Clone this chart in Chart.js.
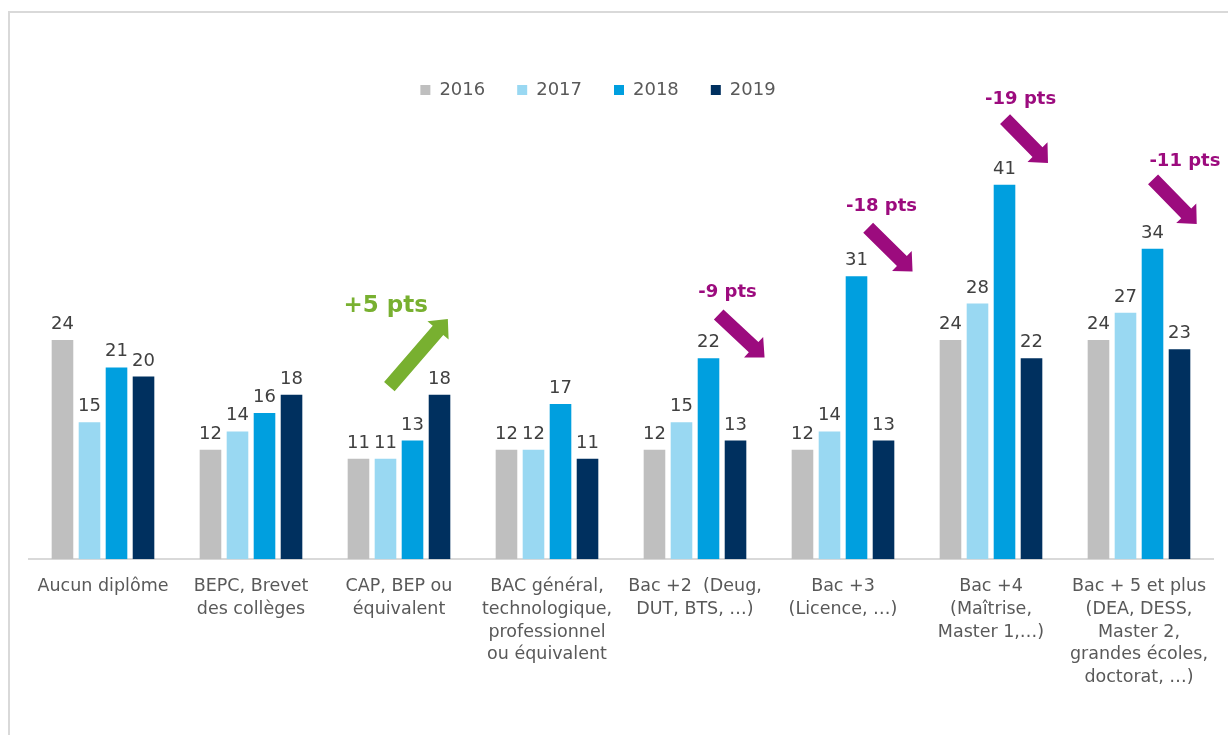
<!DOCTYPE html>
<html>
<head>
<meta charset="utf-8">
<script src="https://cdn.jsdelivr.net/npm/chart.js@4/dist/chart.umd.min.js"></script>
<style>
  body { margin: 0; background: #fff; overflow: hidden; }
  #frame { position: absolute; left: 8px; top: 11px; width: 1300px; height: 800px;
           border-top: 2px solid #d9d9d9; border-left: 2px solid #d9d9d9; }
  #myChart { position: absolute; left: 0; top: 0; }
</style>
</head>
<body>
<div id="frame"></div>
<canvas id="myChart" width="1228" height="735"></canvas>
<script>
const categories = [
  ["Aucun diplôme"],
  ["BEPC, Brevet", "des collèges"],
  ["CAP, BEP ou", "équivalent"],
  ["BAC général,", "technologique,", "professionnel", "ou équivalent"],
  ["Bac +2  (Deug,", "DUT, BTS, …)"],
  ["Bac +3", "(Licence, …)"],
  ["Bac +4", "(Maîtrise,", "Master 1,…)"],
  ["Bac + 5 et plus", "(DEA, DESS,", "Master 2,", "grandes écoles,", "doctorat, …)"]
];
const years = ["2016", "2017", "2018", "2019"];
const values2016 = [24, 12, 11, 12, 12, 12, 24, 24];
const values2017 = [15, 14, 11, 12, 15, 14, 28, 27];
const values2018 = [21, 16, 13, 17, 22, 31, 41, 34];
const values2019 = [20, 18, 18, 11, 13, 13, 22, 23];
const evolutionTexts = ["+5 pts", "-9 pts", "-18 pts", "-19 pts", "-11 pts"];
const evolutionCats = [2, 4, 5, 6, 7];

const barColors = ["#bfbfbf", "#99d8f2", "#009fdf", "#00305f"];
const green = "#78b030";
const purple = "#9c0b7e";

// arrow placement: category offset (in category widths) and value units
const arrows = [
  { tail: [-0.065, 18.9], tip: [0.33, 26.3], text: [-0.09, 27.7], color: green, size: 23 },
  { tail: [0.16, 26.8], tip: [0.47, 22.1], text: [0.22, 29.2], color: purple, size: 18 },
  { tail: [0.17, 36.3], tip: [0.47, 31.5], text: [0.26, 38.6], color: purple, size: 18 },
  { tail: [0.095, 48.2], tip: [0.385, 43.4], text: [0.20, 50.4], color: purple, size: 18 },
  { tail: [0.095, 41.6], tip: [0.39, 36.7], text: [0.31, 43.6], color: purple, size: 18 }
];

const valueLabels = {
  id: "valueLabels",
  afterDatasetsDraw(chart) {
    const ctx = chart.ctx;
    ctx.save();
    ctx.font = "18px 'DejaVu Sans'";
    ctx.fillStyle = "#404040";
    ctx.textAlign = "center";
    ctx.textBaseline = "alphabetic";
    chart.data.datasets.forEach((ds, i) => {
      chart.getDatasetMeta(i).data.forEach((bar, j) => {
        ctx.fillText(ds.data[j], bar.x, bar.y - 11);
      });
    });
    ctx.restore();
  }
};

// nudge the legend a bit to the left, like in the original slide
const legendShift = {
  id: "legendShift",
  afterLayout(chart) {
    chart.legend.left -= 23;
    chart.legend.right -= 23;
  }
};

const evolutionArrows = {
  id: "evolutionArrows",
  afterDraw(chart) {
    const ctx = chart.ctx;
    const xs = chart.scales.x, ys = chart.scales.y;
    const catW = xs.width / categories.length;
    const px = (cat, p) => [xs.getPixelForValue(cat) + p[0] * catW, ys.getPixelForValue(p[1])];
    ctx.save();
    evolutionCats.forEach((cat, i) => {
      const a = arrows[i];
      const [x0, y0] = px(cat, a.tail);
      const [x1, y1] = px(cat, a.tip);
      const len = Math.hypot(x1 - x0, y1 - y0);
      const dx = (x1 - x0) / len, dy = (y1 - y0) / len;
      const nx = -dy, ny = dx;
      const sw = 7, hw = 14, hl = 15;
      const bx = x1 - dx * hl, by = y1 - dy * hl;
      ctx.fillStyle = a.color;
      ctx.beginPath();
      ctx.moveTo(x0 + nx * sw, y0 + ny * sw);
      ctx.lineTo(bx + nx * sw, by + ny * sw);
      ctx.lineTo(bx + nx * hw, by + ny * hw);
      ctx.lineTo(x1, y1);
      ctx.lineTo(bx - nx * hw, by - ny * hw);
      ctx.lineTo(bx - nx * sw, by - ny * sw);
      ctx.lineTo(x0 - nx * sw, y0 - ny * sw);
      ctx.closePath();
      ctx.fill();
      const [tx, ty] = px(cat, a.text);
      ctx.font = "bold " + a.size + "px 'DejaVu Sans'";
      ctx.textAlign = "center";
      ctx.textBaseline = "middle";
      ctx.fillText(evolutionTexts[i], tx, ty);
    });
    ctx.restore();
  }
};

new Chart("myChart", {
  type: "bar",
  data: {
    labels: categories,
    datasets: [
      { label: years[0], data: values2016, backgroundColor: barColors[0] },
      { label: years[1], data: values2017, backgroundColor: barColors[1] },
      { label: years[2], data: values2018, backgroundColor: barColors[2] },
      { label: years[3], data: values2019, backgroundColor: barColors[3] }
    ]
  },
  options: {
    responsive: false,
    animation: false,
    categoryPercentage: 0.73,
    barPercentage: 0.8,
    layout: { padding: { top: 49, left: 29, right: 15, bottom: 30 } },
    plugins: {
      legend: {
        position: "top",
        labels: {
          boxWidth: 10,
          boxHeight: 10,
          padding: 32,
          color: "#595959",
          font: { family: "DejaVu Sans", size: 18 }
        }
      },
      tooltip: { enabled: false }
    },
    scales: {
      x: {
        grid: { display: false, drawTicks: false },
        border: { display: true, color: "#d9d9d9", width: 2 },
        ticks: {
          color: "#595959",
          padding: 16,
          maxRotation: 0,
          autoSkip: false,
          font: { family: "DejaVu Sans", size: 17.5, lineHeight: 1.3 }
        }
      },
      y: {
        display: false,
        min: 0,
        max: 49.3
      }
    }
  },
  plugins: [valueLabels, legendShift, evolutionArrows]
});
</script>
</body>
</html>
